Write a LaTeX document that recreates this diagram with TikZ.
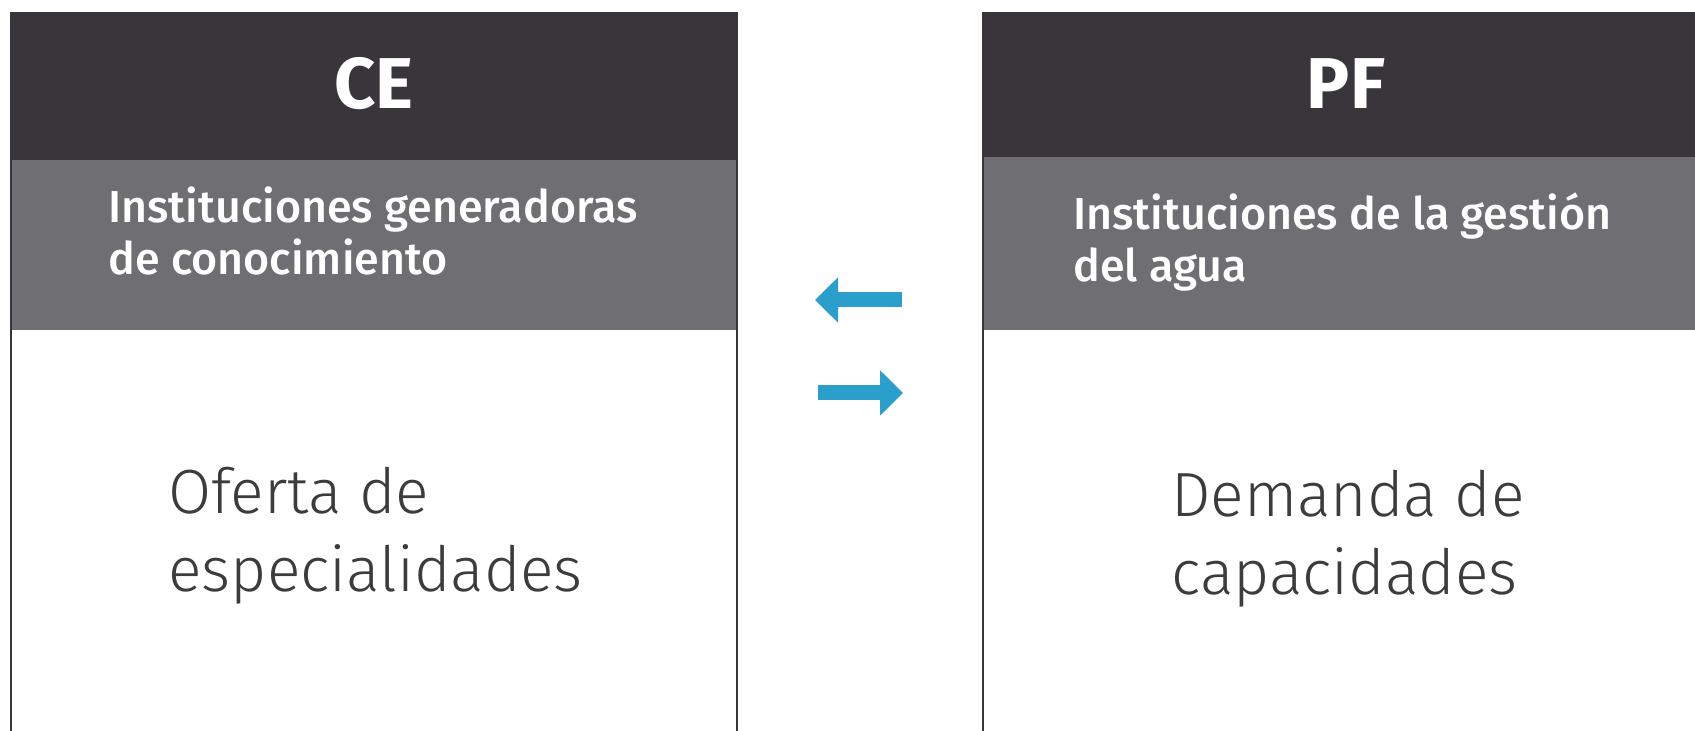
\documentclass[tikz,border=0pt]{standalone}
\usepackage{fontspec}
\setmainfont{Fira Sans}
\newfontfamily\medfont{Fira Sans Medium}
\newfontfamily\lightfont{Fira Sans Light}
\usetikzlibrary{arrows.meta}

\definecolor{headdark}{HTML}{38363A}
\definecolor{headgray}{HTML}{6F6E73}
\definecolor{bodytext}{HTML}{3C3C3C}
\definecolor{flowblue}{HTML}{2A9FCB}

\tikzset{
	headtitle/.style={text=white, inner sep=0pt, font=\fontsize{36}{40}\selectfont\bfseries},
	subtitle/.style={text=white, inner sep=0pt, anchor=base west, align=left, font=\medfont\fontsize{22.4}{26}\selectfont},
	bodytitle/.style={text=bodytext, inner sep=0pt, anchor=base west, align=left, font=\lightfont\fontsize{31.2}{39}\selectfont},
	boxline/.style={draw=headdark, line width=1pt},
	flow/.style={flowblue, line width=7.5pt, -{Triangle[length=11.5pt,width=22pt]}}
}

\begin{document}
\begin{tikzpicture}[x=0.5pt,y=-0.5pt]
		\useasboundingbox (0,0) rectangle (1695,731);
		% left box
		\fill [headdark] (11,13) rectangle (737,160);
		\fill [headgray] (11,160) rectangle (737,330);
		\draw [boxline] (11,13) rectangle (737,780);
		% right box
		\fill [headdark] (983,13) rectangle (1712,157);
		\fill [headgray] (983,157) rectangle (1712,330);
		\draw [boxline] (983,13) rectangle (1712,780);
		% texts (base = last line)
		\node[headtitle] (ce) at (374,84) {CE};
		\node[headtitle] (pf) at (1346,84) {PF};
		\node[subtitle] (ce-sub) at (108,275) {Instituciones generadoras\\de conocimiento};
		\node[subtitle] (pf-sub) at (1073,282) {Instituciones de la gestión\\del agua};
		\node[bodytitle] (ce-body) at (168,591) {Oferta de\\especialidades};
		\node[bodytitle] (pf-body) at (1171,594) {Demanda de\\capacidades};
		% arrows
		\coordinate (back-from) at (902,300);
		\coordinate (back-to) at (815,300);
		\coordinate (go-from) at (818,393);
		\coordinate (go-to) at (903,393);
		\draw [flow] (back-from) -- (back-to);
		\draw [flow] (go-from) -- (go-to);
	\end{tikzpicture}
\end{document}
